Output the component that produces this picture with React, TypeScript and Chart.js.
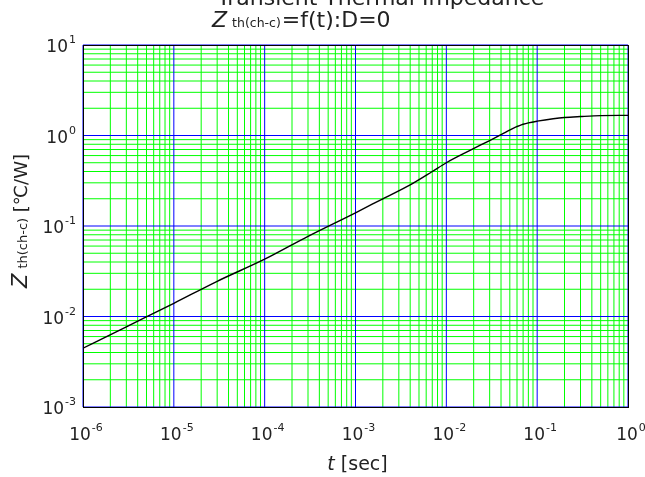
import React, { useEffect, useRef } from "react";
import { Chart, registerables } from "chart.js";

Chart.register(...registerables);

// ---- data ----
const timeSec = [1e-6, 3e-6, 1e-5, 3e-5, 1e-4, 3e-4, 1e-3, 2e-3, 4e-3, 7e-3, 1e-2, 1.8e-2, 3e-2, 4.3e-2, 5.5e-2, 6.3e-2, 7e-2, 8e-2, 1e-1, 1.5e-1, 2e-1, 3e-1, 5e-1, 1];
const zth = [0.00446, 0.0077, 0.014, 0.0245, 0.043, 0.077, 0.14, 0.2, 0.285, 0.4, 0.5, 0.68, 0.88, 1.06, 1.21, 1.28, 1.33, 1.38, 1.44, 1.53, 1.58, 1.62, 1.66, 1.67];

const xExponents = [-6, -5, -4, -3, -2, -1, 0];
const yExponents = [-3, -2, -1, 0, 1];
const significands = [1, 2, 3, 4, 5, 6, 7, 8, 9];

const titleLine1 = "Transient Thermal Impedance";
const titleZ = "Z";
const titleSub = "th(ch-c)";
const titleRest = "=f(t):D=0";
const yTitleZ = "Z";
const yTitleSub = "th(ch-c)";
const yTitleRest = " [℃/W]";
const xTitleT = "t";
const xTitleRest = " [sec]";

const FONT = "'DejaVu Sans', Verdana, sans-serif";
const BLUE = "#0000ff";
const GREEN = "#00ff00";

function decadeValues(exps: number[]) {
  const minor: number[] = [];
  const major: number[] = [];
  for (let i = 0; i < exps.length; i++) {
    major.push(Math.pow(10, exps[i]));
    if (i < exps.length - 1) {
      for (const s of significands.slice(1)) minor.push(Number((s * Math.pow(10, exps[i])).toPrecision(12)));
    }
  }
  return { minor, major };
}

type Part = { text: string; font: string; dy?: number; dx?: number };

function measureParts(ctx: CanvasRenderingContext2D, parts: Part[]) {
  let w = 0;
  for (const p of parts) {
    ctx.font = p.font;
    w += ctx.measureText(p.text).width + (p.dx || 0);
  }
  return w;
}

function drawParts(ctx: CanvasRenderingContext2D, parts: Part[], x: number, y: number) {
  let cx = x;
  for (const p of parts) {
    ctx.font = p.font;
    cx += p.dx || 0;
    ctx.fillText(p.text, cx, y + (p.dy || 0));
    cx += ctx.measureText(p.text).width;
  }
}

function powParts(exp: number): Part[] {
  return [
    { text: "10", font: `17px ${FONT}` },
    { text: String(exp), font: `11px ${FONT}`, dy: -9, dx: 1 },
  ];
}

const gridPlugin = {
  id: "logGrid",
  beforeDatasetsDraw(chart: any) {
    const { ctx, chartArea, scales } = chart;
    const xv = decadeValues(xExponents);
    const yv = decadeValues(yExponents);
    ctx.save();
    ctx.lineWidth = 1;
    const vline = (v: number) => {
      const px = scales.x.getPixelForValue(v);
      ctx.beginPath();
      ctx.moveTo(px, chartArea.top);
      ctx.lineTo(px, chartArea.bottom);
      ctx.stroke();
    };
    const hline = (v: number) => {
      const py = scales.y.getPixelForValue(v);
      ctx.beginPath();
      ctx.moveTo(chartArea.left, py);
      ctx.lineTo(chartArea.right, py);
      ctx.stroke();
    };
    ctx.strokeStyle = GREEN;
    xv.minor.forEach(vline);
    yv.minor.forEach(hline);
    ctx.strokeStyle = BLUE;
    xv.major.forEach(vline);
    yv.major.forEach(hline);
    ctx.strokeStyle = "#000";
    ctx.strokeRect(
      Math.round(chartArea.left) + 0.5,
      Math.round(chartArea.top) + 0.5,
      Math.round(chartArea.right - chartArea.left),
      Math.round(chartArea.bottom - chartArea.top)
    );
    ctx.restore();
  },
};

const textPlugin = {
  id: "customText",
  afterDraw(chart: any) {
    const { ctx, chartArea, scales } = chart;
    ctx.save();
    ctx.fillStyle = "#222";
    ctx.textBaseline = "alphabetic";
    ctx.textAlign = "left";

    // x tick labels
    for (const e of xExponents) {
      const px = scales.x.getPixelForValue(Math.pow(10, e));
      const parts = powParts(e);
      const w = measureParts(ctx, parts);
      drawParts(ctx, parts, px + 3 - w / 2, chartArea.bottom + 33);
    }
    // y tick labels
    for (const e of yExponents) {
      const py = scales.y.getPixelForValue(Math.pow(10, e));
      const parts = powParts(e);
      const w = measureParts(ctx, parts);
      drawParts(ctx, parts, chartArea.left - 7 - w, py + 7);
    }

    // title
    drawParts(ctx, [{ text: titleLine1, font: `22px ${FONT}` }], 217, 5);
    drawParts(
      ctx,
      [
        { text: titleZ, font: `italic 22px ${FONT}` },
        { text: titleSub, font: `12.5px ${FONT}`, dx: 5 },
        { text: titleRest, font: `22px ${FONT}`, dx: 1 },
      ],
      212,
      27
    );

    // x axis title
    const xParts: Part[] = [
      { text: xTitleT, font: `italic 19px ${FONT}` },
      { text: xTitleRest, font: `19px ${FONT}` },
    ];
    const xw = measureParts(ctx, xParts);
    drawParts(ctx, xParts, (chartArea.left + chartArea.right) / 2 + 2 - xw / 2, 470);

    // y axis title (rotated)
    const yParts: Part[] = [
      { text: yTitleZ, font: `italic 21px ${FONT}` },
      { text: yTitleSub, font: `13px ${FONT}`, dx: 5 },
      { text: yTitleRest, font: `18px ${FONT}` },
    ];
    const yw = measureParts(ctx, yParts);
    ctx.translate(27, 221);
    ctx.rotate(-Math.PI / 2);
    drawParts(ctx, yParts, -yw / 2, 0);
    ctx.restore();
  },
};

export default function App() {
  const ref = useRef<HTMLCanvasElement | null>(null);
  useEffect(() => {
    if (!ref.current) return;
    const chart = new Chart(ref.current, {
      type: "scatter",
      data: {
        datasets: [
          {
            data: timeSec.map((t, i) => ({ x: t, y: zth[i] })),
            showLine: true,
            borderColor: "#000",
            borderWidth: 1.4,
            pointRadius: 0,
            cubicInterpolationMode: "monotone",
          } as any,
        ],
      },
      options: {
        animation: false,
        responsive: false,
        events: [],
        layout: { padding: { left: 83, top: 45, right: 17, bottom: 70 } },
        plugins: { legend: { display: false }, tooltip: { enabled: false }, title: { display: false } },
        scales: {
          x: {
            type: "logarithmic",
            min: 1e-6,
            max: 1,
            ticks: { display: false },
            grid: { display: false, drawTicks: false },
            border: { display: false },
          },
          y: {
            type: "logarithmic",
            min: 1e-3,
            max: 10,
            ticks: { display: false },
            grid: { display: false, drawTicks: false },
            border: { display: false },
          },
        },
      } as any,
      plugins: [gridPlugin, textPlugin],
    });
    return () => chart.destroy();
  }, []);
  return (
    <div style={{ position: "fixed", left: 0, top: 0, width: 645, height: 477, background: "#fff" }}>
      <canvas ref={ref} width={645} height={477} style={{ display: "block" }} />
    </div>
  );
}
